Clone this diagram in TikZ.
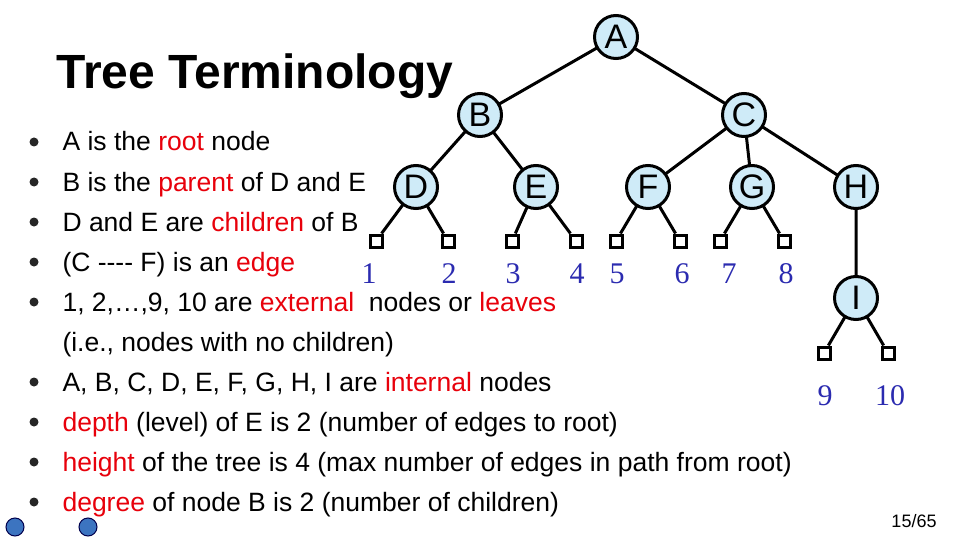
\documentclass[tikz,border=0pt]{standalone}
\usepackage{fontspec}
\setmainfont{Liberation Sans}
\newfontfamily\serifnum{Liberation Serif}
\definecolor{nodefill}{HTML}{CFEBF8}
\definecolor{lblue}{HTML}{2B2BB0}
\definecolor{hred}{HTML}{E8000B}
\definecolor{dotblue}{HTML}{3C74C0}
\begin{document}
\begin{tikzpicture}[x=1pt,y=-1pt,
 tn/.style={circle,draw=black,line width=3pt,fill=nodefill,minimum size=43pt,inner sep=0pt,font=\fontsize{34}{34}\selectfont},
 lf/.style={rectangle,draw=black,line width=3pt,fill=white,minimum size=12pt,inner sep=0pt},
 num/.style={text=lblue,font=\serifnum\fontsize{30}{30}\selectfont},
 ed/.style={line width=3pt},
 bl/.style={anchor=base west,font=\fontsize{26.5}{30}\selectfont}]
\useasboundingbox (0,0) rectangle (960,540);
\fill[white] (0,0) rectangle (960,540);
\coordinate (pA) at (616,37);
\coordinate (pB) at (480,115); \coordinate (pC) at (744,115);
\coordinate (pD) at (416,187); \coordinate (pE) at (536,187);
\coordinate (pF) at (648,187); \coordinate (pG) at (752,187);
\coordinate (pH) at (856,187); \coordinate (pI) at (856,298);
\node[lf] (l1) at (376,241) {}; \node[lf] (l2) at (448,241) {};
\node[lf] (l3) at (512,241) {}; \node[lf] (l4) at (576,241) {};
\node[lf] (l5) at (616,241) {}; \node[lf] (l6) at (680,241) {};
\node[lf] (l7) at (720,241) {}; \node[lf] (l8) at (784,241) {};
\node[lf] (l9) at (824,353) {}; \node[lf] (l10) at (888,353) {};
\draw[ed] (pA)--(pB) (pA)--(pC) (pB)--(pD) (pB)--(pE) (pC)--(pF) (pC)--(pG) (pC)--(pH) (pH)--(pI)
 (pD)--(l1) (pD)--(l2) (pE)--(l3) (pE)--(l4) (pF)--(l5) (pF)--(l6) (pG)--(l7) (pG)--(l8) (pI)--(l9) (pI)--(l10);
\node[lf] at (l1) {}; \node[lf] at (l2) {}; \node[lf] at (l3) {}; \node[lf] at (l4) {};
\node[lf] at (l5) {}; \node[lf] at (l6) {}; \node[lf] at (l7) {}; \node[lf] at (l8) {};
\node[lf] at (l9) {}; \node[lf] at (l10) {};
\node[tn] (A) at (pA) {A}; \node[tn] (B) at (pB) {B}; \node[tn] (C) at (pC) {C};
\node[tn] (D) at (pD) {D}; \node[tn] (E) at (pE) {E}; \node[tn] (F) at (pF) {F};
\node[tn] (G) at (pG) {G}; \node[tn] (H) at (pH) {H}; \node[tn] (I) at (pI) {I};
\node[num] (n1) at (369,274) {1}; \node[num] (n2) at (449,274) {2};
\node[num] (n3) at (513,274) {3}; \node[num] (n4) at (577,274) {4};
\node[num] (n5) at (617,274) {5}; \node[num] (n6) at (682,274) {6};
\node[num] (n7) at (729,274) {7}; \node[num] (n8) at (786,274) {8};
\node[num] (n9) at (825,396) {9}; \node[num] (n10) at (890,396) {10};
\node[anchor=west,font=\bfseries\fontsize{48}{48}\selectfont] (title) at (53,76) {Tree Terminology};
\foreach \y in {142,182,222,262,302,382,422,462,502}
  \fill[black!85] (34,\y) circle (4.5);
\node[bl] (t1) at (59,151) {A is the \textcolor{hred}{root} node};
\node[bl] (t2) at (59,191) {B is the \textcolor{hred}{parent} of D and E};
\node[bl] (t3) at (59,231) {D and E are \textcolor{hred}{children} of B};
\node[bl] (t4) at (59,271) {(C {-}{-}{-}{-} F) is an \textcolor{hred}{edge}};
\node[bl] (t5) at (59,311) {1, 2,\dots,9, 10 are \textcolor{hred}{external}\ \ nodes or \textcolor{hred}{leaves}};
\node[bl] (t6) at (59,351) {(i.e., nodes with no children)};
\node[bl] (t7) at (59,391) {A, B, C, D, E, F, G, H, I are \textcolor{hred}{internal} nodes};
\node[bl] (t8) at (59,431) {\textcolor{hred}{depth} (level) of E is 2 (number of edges to root)};
\node[bl] (t9) at (59,471) {\textcolor{hred}{height} of the tree is 4 (max number of edges in path from root)};
\node[bl] (t10) at (59,511) {\textcolor{hred}{degree} of node B is 2 (number of children)};
\node[font=\fontsize{18}{18}\selectfont] (pg) at (914,521) {15/65};
\fill[dotblue,draw=black!70!blue,line width=1pt] (15,527) circle (9);
\fill[dotblue,draw=black!70!blue,line width=1pt] (88,527) circle (9);
\end{tikzpicture}
\end{document}
